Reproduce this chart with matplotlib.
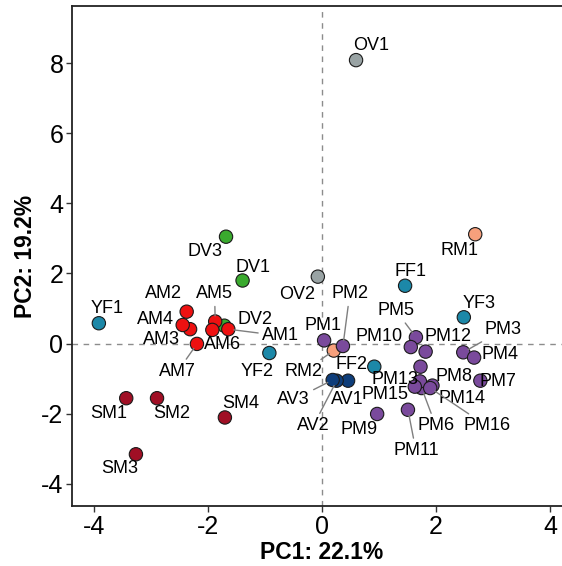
import matplotlib.pyplot as plt

plt.rcParams['font.family'] = ['Liberation Sans', 'DejaVu Sans']
plt.rcParams['axes.unicode_minus'] = False

# PCA scores per sample
names = ['OV1', 'OV2', 'RM1', 'RM2', 'FF1', 'FF2', 'YF1', 'YF2', 'YF3',
         'DV1', 'DV2', 'DV3',
         'AM1', 'AM2', 'AM3', 'AM4', 'AM5', 'AM6', 'AM7',
         'SM1', 'SM2', 'SM3', 'SM4',
         'AV1', 'AV2', 'AV3',
         'PM1', 'PM2', 'PM3', 'PM4', 'PM5', 'PM6', 'PM7', 'PM8',
         'PM9', 'PM10', 'PM11', 'PM12', 'PM13', 'PM14', 'PM15', 'PM16']
pc1 = [0.60, -0.07, 2.69, 0.21, 1.46, 0.92, -3.91, -0.92, 2.49,
       -1.39, -1.71, -1.68,
       -1.64, -2.37, -2.31, -2.44, -1.87, -1.92, -2.19,
       -3.43, -2.89, -3.26, -1.70,
       0.46, 0.26, 0.19,
       0.04, 0.37, 2.48, 2.67, 1.65, 1.75, 2.78, 1.94,
       0.97, 1.56, 1.51, 1.82, 1.73, 1.72, 1.63, 1.90]
pc2 = [8.09, 1.91, 3.12, -0.20, 1.65, -0.66, 0.58, -0.27, 0.75,
       1.80, 0.51, 3.05,
       0.41, 0.91, 0.41, 0.53, 0.63, 0.39, -0.01,
       -1.56, -1.56, -3.16, -2.11,
       -1.06, -1.06, -1.04,
       0.09, -0.07, -0.25, -0.40, 0.18, -1.27, -1.06, -1.20,
       -2.01, -0.10, -1.89, -0.23, -0.66, -1.08, -1.23, -1.27]

pc1_var = 22.1
pc2_var = 19.2

group_colors = {
    'OV': '#99a3a4', 'RM': '#f7a07c', 'FF': '#1c88a8', 'YF': '#1c88a8',
    'DV': '#3aaa2e', 'AM': '#ee1111', 'SM': '#a00f25', 'AV': '#0e3d7a',
    'PM': '#7a4a9c',
}

# label centre positions (data units) and whether a leader segment is drawn
label_pos = {
    'OV1': (0.86, 8.52, False), 'OV2': (-0.43, 1.41, False),
    'RM1': (2.41, 2.67, False), 'RM2': (-0.32, -0.80, True),
    'FF1': (1.56, 2.07, False), 'FF2': (0.52, -0.61, False),
    'YF1': (-3.77, 1.01, False), 'YF2': (-1.14, -0.80, False),
    'YF3': (2.76, 1.15, False),
    'DV1': (-1.21, 2.18, False), 'DV2': (-1.17, 0.70, False),
    'DV3': (-2.05, 2.63, False),
    'AM1': (-0.72, 0.22, True), 'AM2': (-2.78, 1.42, False),
    'AM3': (-2.81, 0.11, False), 'AM4': (-2.92, 0.68, False),
    'AM5': (-1.88, 1.42, True), 'AM6': (-1.75, -0.04, False),
    'AM7': (-2.53, -0.80, True),
    'SM1': (-3.73, -2.01, False), 'SM2': (-2.63, -2.01, False),
    'SM3': (-3.54, -3.58, False), 'SM4': (-1.43, -1.70, False),
    'AV1': (0.44, -1.59, False), 'AV2': (-0.15, -2.35, True),
    'AV3': (-0.50, -1.61, True),
    'PM1': (0.02, 0.51, False), 'PM2': (0.49, 1.42, True),
    'PM3': (3.17, 0.39, True), 'PM4': (3.12, -0.32, False),
    'PM5': (1.30, 0.94, True), 'PM6': (2.00, -2.35, True),
    'PM7': (3.09, -1.08, False), 'PM8': (2.31, -0.94, False),
    'PM9': (0.66, -2.46, False), 'PM10': (1.00, 0.20, False),
    'PM11': (1.65, -3.06, True), 'PM12': (2.22, 0.20, False),
    'PM13': (1.28, -1.02, False), 'PM14': (2.45, -1.58, False),
    'PM15': (1.11, -1.46, False), 'PM16': (2.89, -2.35, True),
}

fig = plt.figure(figsize=(5.62, 5.66), dpi=100)
ax = fig.add_axes([0.1276, 0.1055, 0.8895, 0.8839])

ax.axhline(0, color='#8c8c8c', lw=1, ls=(0, (4, 4)), zorder=1)
ax.axvline(0, color='#8c8c8c', lw=1, ls=(0, (4, 4)), zorder=1)

colors = [group_colors[n[:2]] for n in names]
ax.scatter(pc1, pc2, s=92, c=colors, edgecolors='#1a1a1a', linewidths=0.8,
           zorder=3)

for name, x, y in zip(names, pc1, pc2):
    lx, ly, leader = label_pos[name]
    arrow = None
    if leader:
        arrow = dict(arrowstyle='-', color='#7f7f7f', lw=1.0,
                     shrinkA=1, shrinkB=4)
    ax.annotate(name, xy=(x, y), xytext=(lx, ly), ha='center', va='center',
                fontsize=13, color='black', arrowprops=arrow, zorder=4)

ax.set_xlim(-4.386, 4.38)
ax.set_ylim(-4.645, 9.635)
ax.set_xticks([-4, -2, 0, 2, 4])
ax.set_yticks([-4, -2, 0, 2, 4, 6, 8])
ax.tick_params(labelsize=18, length=4, width=1, color='#333333', pad=2)

for side in ax.spines.values():
    side.set_linewidth(1.3)
    side.set_color('#222222')

ax.set_xlabel('PC1: %.1f%%' % pc1_var, fontsize=16.5, fontweight='bold',
              labelpad=2)
ax.set_ylabel('PC2: %.1f%%' % pc2_var, fontsize=16.5, fontweight='bold',
              labelpad=3)

fig.savefig('out.png', dpi=100)
